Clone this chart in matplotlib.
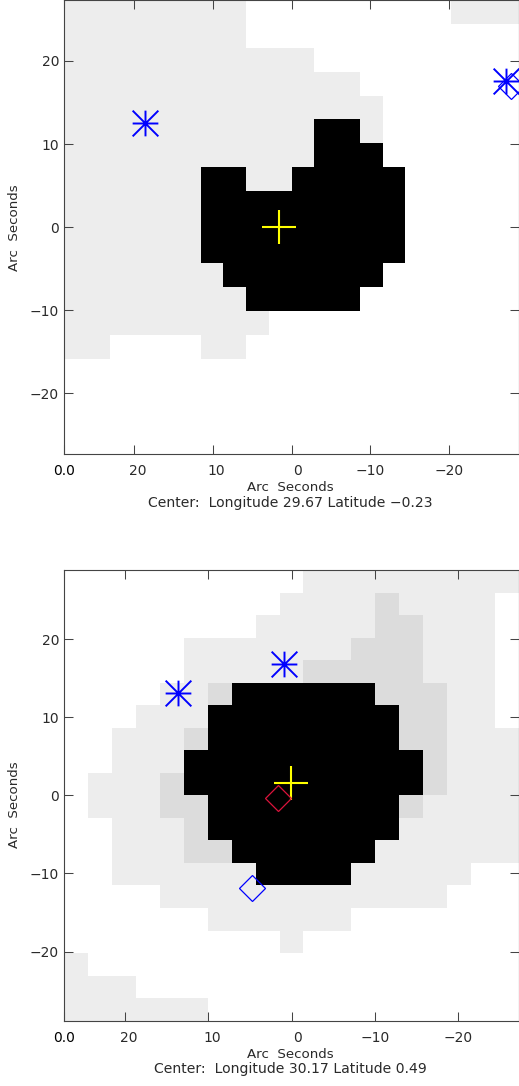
import numpy as np
import matplotlib
matplotlib.use("Agg")
import matplotlib.pyplot as plt
from matplotlib.colors import ListedColormap, BoundaryNorm
from matplotlib.path import Path
from matplotlib.transforms import ScaledTranslation

W, H = 519, 1086

# 0 white, 1 light grey, 2 mid grey, 3 black; first row is the top of the map
grid_top = [
    "11111111000000000111",
    "11111111000000000000",
    "11111111111000000000",
    "11111111111110000000",
    "11111111111111000000",
    "11111111111331000000",
    "11111111111333000000",
    "11111133113333300000",
    "11111133333333300000",
    "11111133333333300000",
    "11111133333333300000",
    "11111113333333000000",
    "11111111333330000000",
    "11111111100000000000",
    "11000011000000000000",
    "00000000000000000000",
    "00000000000000000000",
    "00000000000000000000",
    "00000000000000000000",
]
grid_bottom = [
    "0000000000111111111",
    "0000000001111211110",
    "0000000011111221110",
    "0000011111112221110",
    "0000011111222221110",
    "0000112333333222110",
    "0001113333333322110",
    "0011123333333322111",
    "0011133333333332111",
    "0111233333333332111",
    "0111223333333321111",
    "0011123333333311111",
    "0011122333333111111",
    "0011111133331111100",
    "0000111111111111000",
    "0000001111110000000",
    "0000000001000000000",
    "1000000000000000000",
    "1110000000000000000",
    "1111110000000000000",
]

# (x, y) in arc seconds
cross_top = (1.58, 0.0)
stars_top_x = [18.64, -27.25]
stars_top_y = [12.55, 17.6]
diamond_top = (-27.8, 16.97)

cross_bottom = (0.05, 1.53)
stars_bottom_x = [0.93, 13.66]
stars_bottom_y = [16.8, 13.14]
red_diamond = (1.65, -0.3)
blue_diamond = (4.74, -11.83)

xticks = [20, 10, 0, -10, -20]
yticks = [20, 10, 0, -10, -20]
tick_shift = [3.5, 3.5, 6, 0, 0]  # IDL puts the labels slightly off the ticks

caption_top = "Center:  Longitude 29.67 Latitude \u22120.23"
caption_bottom = "Center:  Longitude 30.17 Latitude 0.49"

greys = ListedColormap(["#ffffff", "#ededed", "#dcdcdc", "#000000"])
norm = BoundaryNorm([-0.5, 0.5, 1.5, 2.5, 3.5], 4)

# 8 armed IDL asterisk, diagonals reach the corners of the box
star = Path(
    [(-1, 0), (1, 0), (0, -1), (0, 1), (-1, -1), (1, 1), (-1, 1), (1, -1)],
    [Path.MOVETO, Path.LINETO] * 4,
)

TXT = "#2a2a2a"
plt.rcParams["font.family"] = "DejaVu Sans"
plt.rcParams["font.size"] = 10


def panel(fig, box, xlim, ylim, grid, xedges, yedges):
    l, t, r, b = box
    ax = fig.add_axes([l / W, 1 - b / H, (r - l) / W, (b - t) / H])
    vals = np.array([[int(c) for c in row] for row in grid])
    ax.pcolormesh(xedges, yedges, vals, cmap=greys, norm=norm, shading="flat")
    ax.set_xlim(xlim)
    ax.set_ylim(ylim)
    ax.set_xticks([xlim[0]] + xticks, ["0.0"] + [str(v).replace("-", "\u2212") for v in xticks])
    ax.set_yticks(yticks, [str(v).replace("-", "\u2212") for v in yticks])
    ax.tick_params(direction="in", length=6.5, width=0.75, color="#444444", top=True, right=True,
                   labelcolor=TXT)
    ax.tick_params(axis="x", pad=7.5)
    ax.tick_params(axis="y", pad=3.8)
    for lab, dx in zip(ax.get_xticklabels(), [0] + tick_shift):
        lab.set_transform(lab.get_transform() + ScaledTranslation(dx / 100, 0, fig.dpi_scale_trans))
    ax.get_xticklabels()[0].set_color("black")
    for s in ax.spines.values():
        s.set_linewidth(0.8)
        s.set_color("#444444")
    return ax


def labels(fig, cy, y1, y2, cap):
    fig.text(14.3 / W, 1 - cy / H, "Arc  Seconds", rotation=90, ha="center", va="center",
             color=TXT, fontsize=9.6)
    fig.text(290.7 / W, 1 - y1 / H, "Arc  Seconds", ha="center", va="center", color=TXT, fontsize=9.6)
    fig.text(290.7 / W, 1 - y2 / H, cap, ha="center", va="center", color=TXT, fontsize=10.1)


fig = plt.figure(figsize=(W / 100, H / 100), dpi=100)

# top map
xe = np.linspace(28.86, -28.86, 21)
ye = 27.386 - 2.886 * np.arange(20)
ax = panel(fig, (64.3, 0.3, 518.5, 454), (28.86, -28.8), (-27.3, 27.3), grid_top, xe, ye)
ax.plot(*cross_top, marker="+", ms=24, mew=1.5, color="#ffff00", ls="none")
ax.plot(stars_top_x, stars_top_y, marker=star, ms=18.5, mew=1.4, color="#0000ff", ls="none")
ax.plot(*diamond_top, marker="D", ms=13.2, mew=0.9, mfc="none", color="#0000ff", ls="none")
labels(fig, 227.7, 487.7, 503, caption_top)

# bottom map
xe = np.linspace(27.33, -27.33, 20)
ye = np.linspace(28.85, -28.85, 21)
ax = panel(fig, (64.3, 570, 518.5, 1020.7), (27.33, -27.3), (-28.85, 28.85), grid_bottom, xe, ye)
ax.plot(*cross_bottom, marker="+", ms=24, mew=1.5, color="#ffff00", ls="none")
ax.plot(stars_bottom_x, stars_bottom_y, marker=star, ms=18.5, mew=1.4, color="#0000ff", ls="none")
ax.plot(*red_diamond, marker="D", ms=13.2, mew=0.9, mfc="none", color="#dc143c", ls="none")
ax.plot(*blue_diamond, marker="D", ms=13.2, mew=0.9, mfc="none", color="#0000ff", ls="none")
labels(fig, 805, 1054, 1069.3, caption_bottom)

fig.savefig("out.png", dpi=100)
